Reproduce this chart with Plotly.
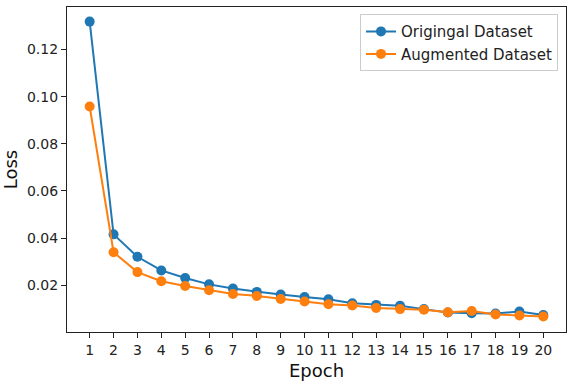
import plotly.graph_objects as go

epochs = list(range(1, 21))
original = [0.1318, 0.0416, 0.0321, 0.0263, 0.0231, 0.0204, 0.0186, 0.0172, 0.0161, 0.0150,
            0.0141, 0.0124, 0.0117, 0.0113, 0.0099, 0.0085, 0.0082, 0.0080, 0.0089, 0.0074]
augmented = [0.0958, 0.0340, 0.0256, 0.0217, 0.0197, 0.0179, 0.0163, 0.0155, 0.0142, 0.0131,
             0.0120, 0.0114, 0.0104, 0.0099, 0.0096, 0.0086, 0.0091, 0.0076, 0.0072, 0.0068]
y_ticks = [0.02, 0.04, 0.06, 0.08, 0.10, 0.12]

FONT = "DejaVu Sans"
fig = go.Figure()
fig.add_trace(go.Scatter(x=epochs, y=original, mode="lines+markers", name="Origingal Dataset",
                         line=dict(color="#1f77b4", width=2),
                         marker=dict(color="#1f77b4", size=10)))
fig.add_trace(go.Scatter(x=epochs, y=augmented, mode="lines+markers", name="Augmented Dataset",
                         line=dict(color="#ff7f0e", width=2),
                         marker=dict(color="#ff7f0e", size=10)))

axis_common = dict(showline=True, mirror=True, linecolor="#222", linewidth=1.2,
                   ticks="outside", ticklen=5, tickcolor="#222", showgrid=False, zeroline=False,
                   tickfont=dict(family=FONT, size=14, color="#222"))
fig.update_xaxes(range=[0.05, 20.95], tickvals=epochs, ticktext=[str(e) for e in epochs],
                 title=dict(text="Epoch", font=dict(family=FONT, size=18, color="#111"), standoff=7),
                 **axis_common)
fig.update_yaxes(range=[0.0002, 0.138], tickvals=y_ticks, ticktext=[f"{v:.2f}" for v in y_ticks],
                 title=dict(text="Loss", font=dict(family=FONT, size=18, color="#111"), standoff=8),
                 **axis_common)
fig.update_layout(width=573, height=384, margin=dict(l=66, r=6, t=7, b=52),
                  plot_bgcolor="white", paper_bgcolor="white",
                  font=dict(family=FONT, color="#222"),
                  legend=dict(x=0.984, y=0.978, xanchor="right", yanchor="top",
                              bgcolor="rgba(255,255,255,0.8)", bordercolor="#cccccc", borderwidth=1,
                              font=dict(family=FONT, size=15, color="#222"), itemwidth=30,
                              tracegroupgap=0))
fig.write_html("out.html")
